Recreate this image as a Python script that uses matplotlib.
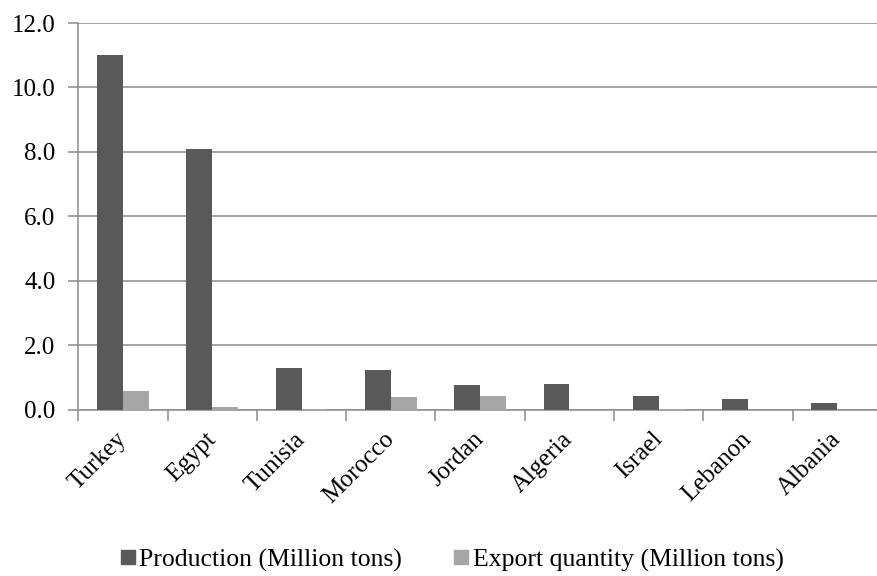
import matplotlib
matplotlib.use("Agg")
import matplotlib.pyplot as plt
import numpy as np
from matplotlib.lines import Line2D

countries = ["Turkey", "Egypt", "Tunisia", "Morocco", "Jordan",
             "Algeria", "Israel", "Lebanon", "Albania"]
production = [11.0, 8.1, 1.28, 1.22, 0.77, 0.78, 0.42, 0.33, 0.21]
export_qty = [0.58, 0.07, 0.03, 0.39, 0.42, 0.0, 0.03, 0.0, 0.0]
y_ticks = [0.0, 2.0, 4.0, 6.0, 8.0, 10.0, 12.0]
series_names = ["Production (Million tons)", "Export quantity (Million tons)"]

prod_color = "#595959"
exp_color = "#a6a6a6"
grid_color = "#8c8c8c"
font = "Liberation Serif"
fs = 18
fs_big = 18.5

fig = plt.figure(figsize=(8.78, 5.76), dpi=100)
W, H = 878, 576
x0, x1 = 78.3, 882
y0, y1 = 409.5, 23
ax = fig.add_axes([x0 / W, (H - y0) / H, (x1 - x0) / W, (y0 - y1) / H])

x = np.arange(len(countries))
bw = 0.29
ax.bar(x - bw / 2, production, width=bw, color=prod_color, zorder=3)
ax.bar(x + bw / 2, export_qty, width=bw, color=exp_color, zorder=3)

ax.set_xlim(-0.5, len(countries) - 0.5)
ax.set_ylim(0, 12)
ax.set_yticks(y_ticks)
ax.set_yticklabels([f"{v:.1f}" for v in y_ticks], fontfamily=font, fontsize=fs)
ax.yaxis.grid(True, color=grid_color, linewidth=1.1, zorder=0)
ax.set_axisbelow(True)

# category ticks sit on the boundaries between groups
ax.set_xticks(np.arange(len(countries) + 1) - 0.5, minor=False)
ax.set_xticklabels([])
ax.set_xticks(x, minor=True)
ax.set_xticklabels(countries, minor=True, rotation=45, ha="right", va="center",
                   rotation_mode="anchor", fontfamily=font, fontsize=fs)
ax.tick_params(axis="x", which="minor", length=0, pad=19)
ax.tick_params(axis="x", which="major", length=8, width=1.1, color=grid_color, direction="out")
ax.tick_params(axis="y", length=7, width=1.1, color=grid_color, pad=9.5, direction="out")

for side in ["top", "right"]:
    ax.spines[side].set_visible(False)
ax.spines["left"].set_color(grid_color)
ax.spines["bottom"].set_color(grid_color)
ax.spines["left"].set_linewidth(1.1)
ax.spines["bottom"].set_linewidth(1.1)

handles = [Line2D([], [], marker="s", linestyle="none", markersize=10.5,
                  markerfacecolor=prod_color, markeredgecolor=prod_color),
           Line2D([], [], marker="s", linestyle="none", markersize=10.5,
                  markerfacecolor=exp_color, markeredgecolor=exp_color)]
fig.legend(handles, series_names, loc="center", bbox_to_anchor=(452 / W, (H - 560) / H),
           ncol=2, frameon=False, prop={"family": font, "size": fs_big},
           handlelength=0.6, handletextpad=0.15, columnspacing=2.0)

fig.savefig("out.png", dpi=100)
